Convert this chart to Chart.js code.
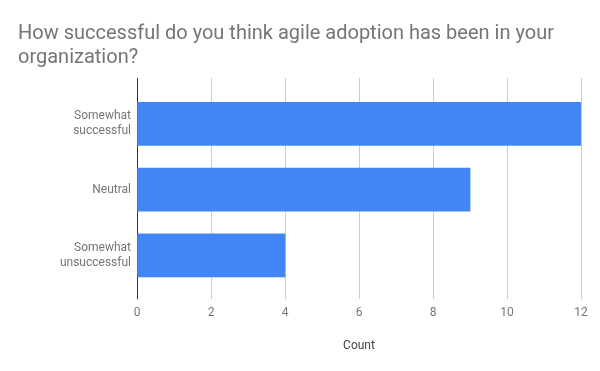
<!DOCTYPE html>
<html>
<head>
<meta charset="utf-8">
<script src="https://cdn.jsdelivr.net/npm/chart.js@4"></script>
<style>
  html, body { margin: 0; padding: 0; background: #fff; }
  #wrap { width: 600px; height: 371px; }
</style>
</head>
<body>
<div id="wrap"><canvas id="myChart"></canvas></div>
<script>
const categorias = [["Somewhat", "successful"], "Neutral", ["Somewhat", "unsuccessful"]];
const valores = [12, 9, 4];
const ticksX = [0, 2, 4, 6, 8, 10, 12];
const titulo = ["How successful do you think agile adoption has been in your", "organization?"];

Chart.defaults.font.family = "Roboto, 'Liberation Sans', sans-serif";

// las líneas de la grilla sobresalen un poco por arriba del área
const extenderGrilla = {
    id: "extenderGrilla",
    beforeDatasetsDraw(chart) {
        const x = chart.scales.x;
        const ctx = chart.ctx;
        const top = chart.chartArea.top;
        ctx.save();
        ctx.lineWidth = 1;
        ticksX.forEach(v => {
            const px = Math.round(x.getPixelForValue(v)) + 0.5;
            ctx.strokeStyle = v === 0 ? "#333333" : "#cccccc";
            ctx.beginPath();
            ctx.moveTo(px, top - 13);
            ctx.lineTo(px, top);
            ctx.stroke();
        });
        ctx.restore();
    }
};

const canvas = document.getElementById("myChart");
new Chart(canvas, {
    type: "bar",
    data: {
        labels: categorias,
        datasets: [{
            data: valores,
            backgroundColor: "#4285f4",
            barThickness: 43
        }]
    },
    options: {
        indexAxis: "y",
        responsive: true,
        maintainAspectRatio: false,
        animation: false,
        layout: { padding: { left: 18, right: 19, top: 0, bottom: 0 } },
        plugins: {
            legend: { display: false },
            tooltip: { enabled: false },
            title: {
                display: true,
                text: titulo,
                align: "start",
                color: "#757575",
                font: { size: 20, weight: "normal", lineHeight: 1.2 },
                padding: { top: 22, bottom: 21 }
            }
        },
        scales: {
            x: {
                min: 0,
                max: 12,
                afterBuildTicks: s => { s.ticks = ticksX.map(v => ({ value: v })); },
                grid: {
                    color: c => c.tick && c.tick.value === 0 ? "#333333" : "#cccccc",
                    tickLength: 11,
                    drawTicks: true
                },
                border: { display: false },
                ticks: { color: "#757575", font: { size: 12 }, padding: 7 },
                title: {
                    display: true,
                    text: "Count",
                    color: "#444444",
                    font: { size: 12 },
                    padding: { top: 11, bottom: 18 }
                }
            },
            y: {
                grid: { display: false, drawTicks: false },
                border: { display: false },
                ticks: { color: "#757575", font: { size: 12, lineHeight: 1.25 }, padding: 6 },
                afterFit: s => { s.width = 119; }
            }
        }
    },
    plugins: [extenderGrilla]
});
</script>
</body>
</html>
